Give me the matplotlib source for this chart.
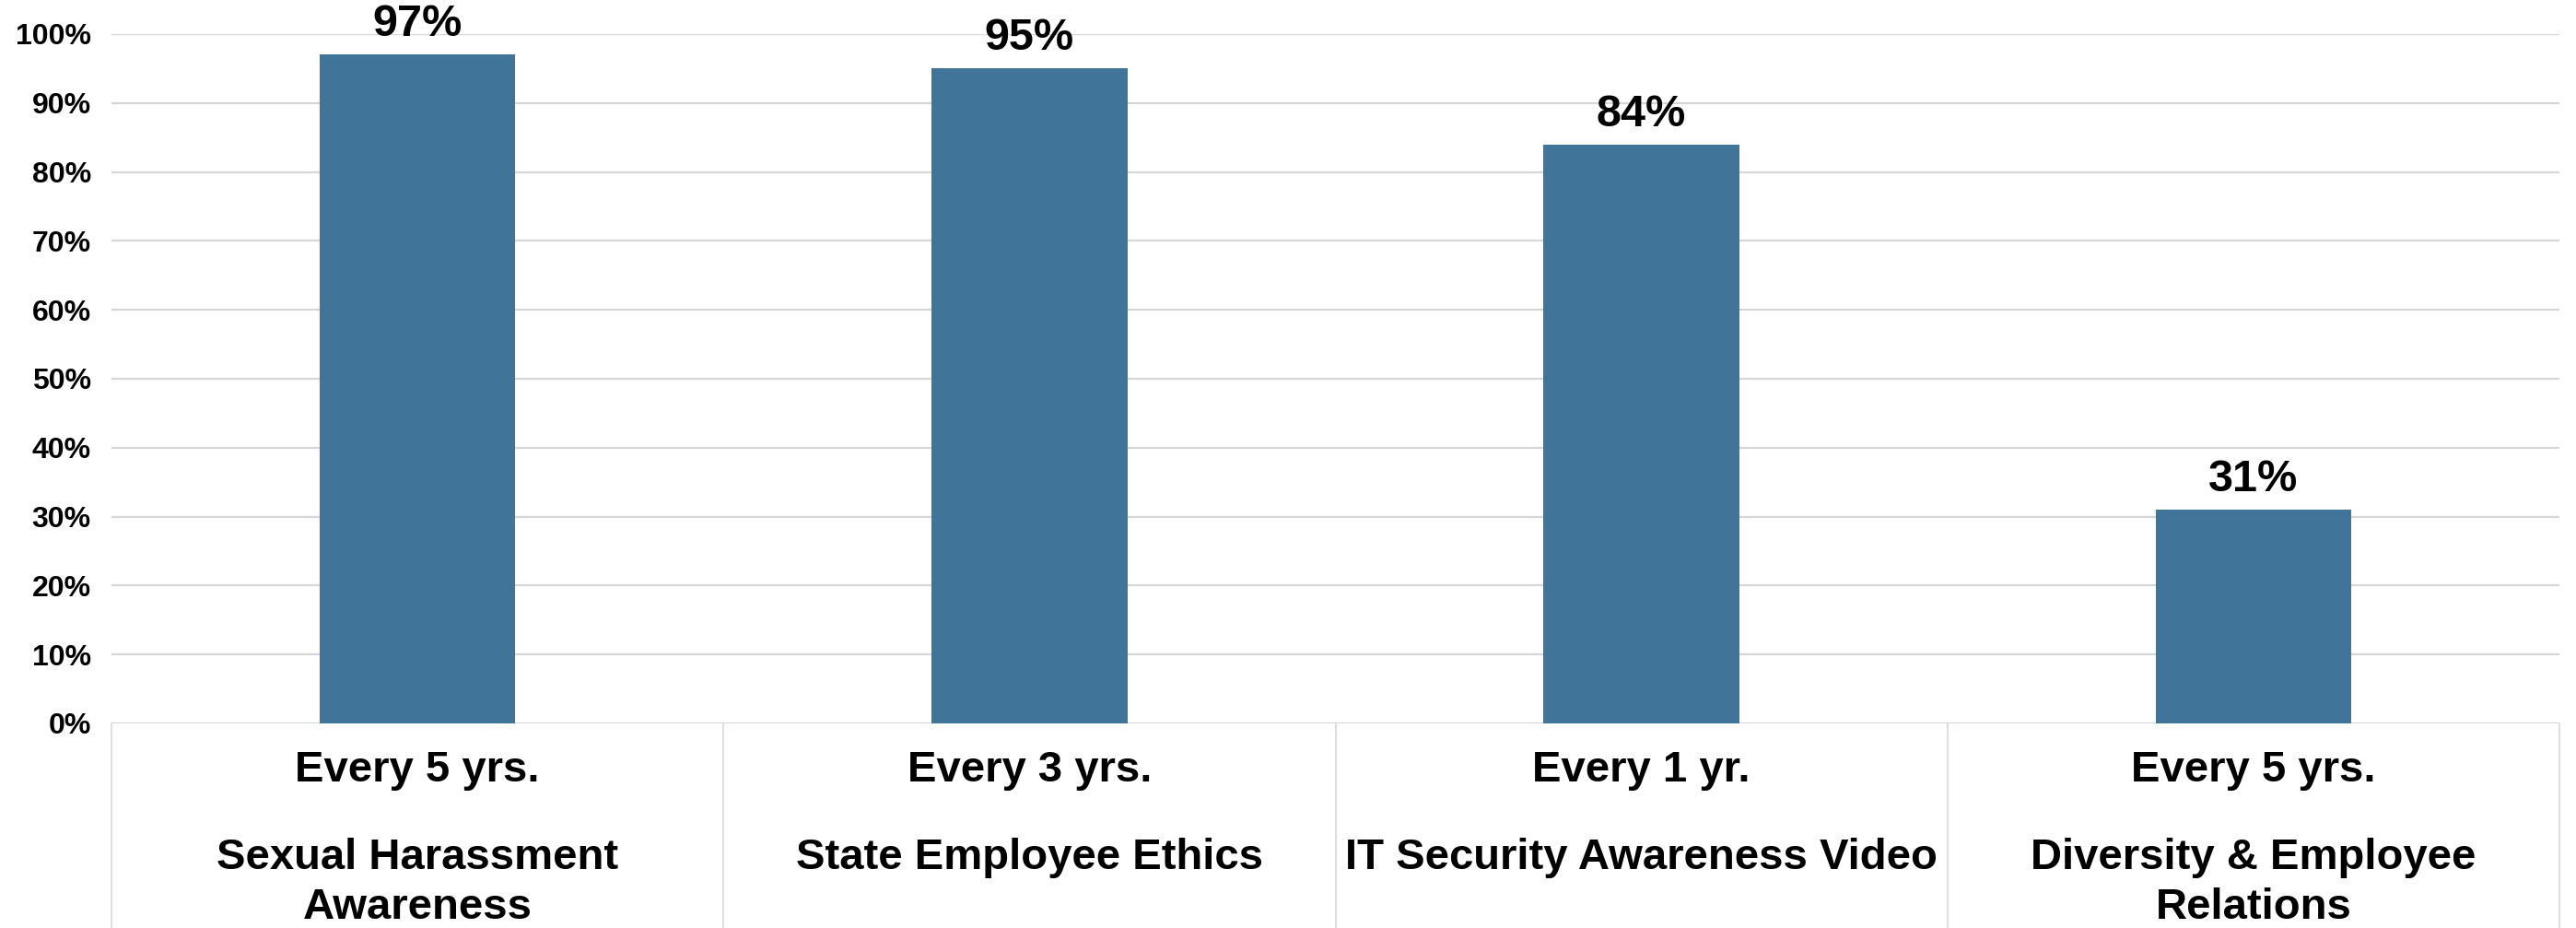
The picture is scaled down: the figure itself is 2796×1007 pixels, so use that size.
import matplotlib
matplotlib.use("Agg")
import matplotlib.pyplot as plt
import matplotlib.transforms as mtransforms

# chart data
frequencies = ["Every 5 yrs.", "Every 3 yrs.", "Every 1 yr.", "Every 5 yrs."]
courses = ["Sexual Harassment\nAwareness", "State Employee Ethics",
           "IT Security Awareness Video", "Diversity & Employee\nRelations"]
completion = [97, 95, 84, 31]
yticks = [0, 10, 20, 30, 40, 50, 60, 70, 80, 90, 100]

plt.rcParams['font.family'] = ['Liberation Sans', 'DejaVu Sans']
plt.rcParams['font.weight'] = 'bold'

W, H = 2796, 1007
fig = plt.figure(figsize=(W / 100, H / 100), dpi=100)
left, right = 121 / W, 2778 / W
top, bottom = 1 - 37 / H, 1 - 785 / H
ax = fig.add_axes([left, bottom, right - left, top - bottom])
axh_px = 785 - 37

x = list(range(len(completion)))
bars = ax.bar(x, completion, width=0.32, color='#417499', zorder=3)

for xi, v in zip(x, completion):
    ax.annotate(f"{v}%", (xi, v), xytext=(0, 23.5), textcoords='offset points',
                ha='center', va='center', fontsize=35, fontweight='bold')

ax.set_xlim(-0.5, len(completion) - 0.5)
ax.set_ylim(0, 100)
ax.set_yticks(yticks)
ax.set_yticklabels([f"{t}%" for t in yticks], fontsize=23, fontweight='bold')
ax.tick_params(axis='y', length=0, pad=16)
ax.set_xticks([])
ax.grid(axis='y', color='#d6d6d6', linewidth=1.6, zorder=0)
for s in ax.spines.values():
    s.set_visible(False)

trans = mtransforms.blended_transform_factory(ax.transData, ax.transAxes)

# category boxes below the plot
for b in [i - 0.5 for i in range(len(completion) + 1)]:
    ax.plot([b, b], [0, -230 / axh_px], transform=trans, color='#d9d9d9',
            linewidth=1.2, clip_on=False, zorder=1)

for xi, f, c in zip(x, frequencies, courses):
    ax.text(xi, -51 / axh_px, f, transform=trans, ha='center', va='center',
            fontsize=34, fontweight='bold')
    ax.text(xi, -124 / axh_px, c, transform=trans, ha='center', va='top',
            fontsize=34, fontweight='bold', linespacing=1.3)

fig.savefig("out.png", dpi=100)
